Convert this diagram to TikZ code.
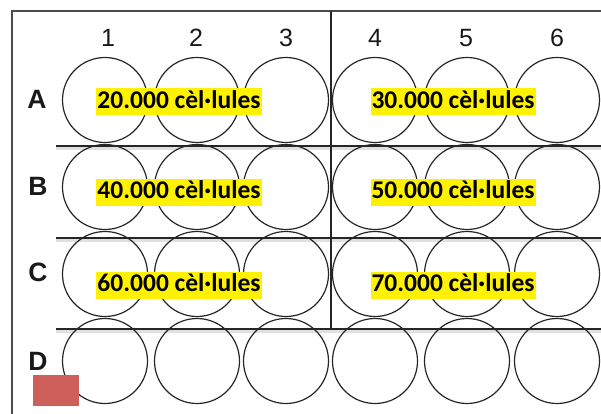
\documentclass[tikz,border=0pt]{standalone}
\usepackage{fontspec}
\setmainfont{Liberation Sans}
\newfontfamily\calfont{Carlito}
\begin{document}
\begin{tikzpicture}[x=1pt,y=-1pt,
  well/.style={circle,draw=black!85,line width=1.2pt,minimum size=85pt,inner sep=0pt},
  rowlab/.style={font=\fontsize{26.5}{26.5}\selectfont\bfseries,text=black!90},
  collab/.style={font=\fontsize{25}{25}\selectfont,text=black!90},
  count/.style={fill=yellow,inner xsep=1pt,inner ysep=1pt,text height=19pt,text depth=6pt,
    font=\calfont\fontsize{25.5}{25.5}\selectfont\bfseries,text=black},
  grid/.style={line width=1.3pt,draw=black!85},
  shade/.style={line width=3pt,draw=black!12}]
\useasboundingbox (0,0) rectangle (601,414);
% frame
\draw[line width=1.5pt,draw=black!70] (12,414) -- (12,11) -- (601,11);
% shadows of row lines
\foreach \yy in {146,238,329} \draw[shade] (56,\yy+2.5) -- (601,\yy+2.5);
% wells
\foreach \r/\yy in {A/100,B/187,C/274,D/361}{
  \foreach \c/\xx in {1/105,2/197,3/286,4/375,5/467,6/557}{
    \node[well] (w\r\c) at (\xx,\yy) {};
  }
}
% grid lines
\foreach \yy in {146,238,329} \draw[grid] (56,\yy) -- (601,\yy);
\draw[grid] (331,11) -- (331,329);
% column labels
\foreach \c/\xx in {1/108,2/196,3/286,4/375,5/466,6/557}
  \node[collab] (c\c) at (\xx,38) {\c};
% row labels
\node[rowlab] (rA) at (37,99) {A};
\node[rowlab] (rB) at (38,186) {B};
\node[rowlab] (rC) at (38,272) {C};
\node[rowlab] (rD) at (38,361) {D};
% counts
\node[count] (kA1) at (179,102) {20.000 cèl·lules};
\node[count] (kA2) at (453,102) {30.000 cèl·lules};
\node[count] (kB1) at (179,192) {40.000 cèl·lules};
\node[count] (kB2) at (453,192) {50.000 cèl·lules};
\node[count] (kC1) at (179,285) {60.000 cèl·lules};
\node[count] (kC2) at (453,285) {70.000 cèl·lules};
% red marker
\fill[fill={rgb,255:red,205;green,96;blue,91}] (33,375) rectangle (79,406);
\end{tikzpicture}
\end{document}
